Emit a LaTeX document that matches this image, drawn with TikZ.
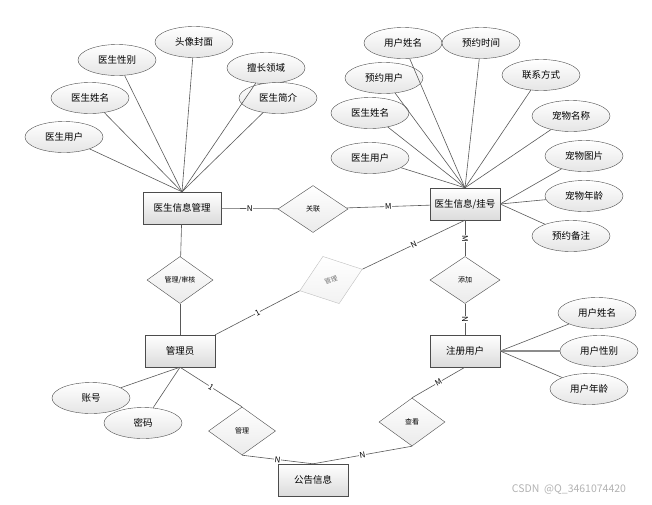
\documentclass[tikz,border=0pt]{standalone}
\usepackage{fontspec}
\setmainfont{Noto Sans CJK SC}
\usetikzlibrary{shapes.geometric}

\begin{document}
\begin{tikzpicture}[x=1pt,y=-1pt,
    entity/.style={rectangle,draw=black!70,top color=white,bottom color=black!14,minimum width=70pt,minimum height=32pt,inner sep=1pt,font=\fontsize{9.5}{11}\selectfont},
    attr/.style={ellipse,draw=black!70,top color=white,bottom color=black!10,minimum width=78pt,minimum height=31pt,inner sep=0pt,font=\fontsize{9.5}{11}\selectfont},
    rel/.style={diamond,draw=black!70,top color=white,bottom color=black!8,minimum width=68pt,minimum height=47pt,inner sep=0pt,font=\fontsize{7}{8}\selectfont},
    faded/.style={draw=black!25,top color=white,bottom color=black!5,text=black!55,font=\fontsize{6.5}{7}\selectfont},
    card/.style={fill=white,inner sep=0.5pt,font=\fontsize{8}{9}\selectfont,sloped},
    link/.style={draw=black!65,line width=0.6pt}]
            \useasboundingbox (0,0) rectangle (652,504);

            % Place the doctor entity and its attributes
            \node[entity,minimum width=78pt] (doc) at (182,208) {医生信息管理};
            \node[attr] (doc1) at (64,137) {医生用户};
            \node[attr] (doc2) at (90,98) {医生姓名};
            \node[attr] (doc3) at (117,60) {医生性别};
            \node[attr] (doc4) at (194,42) {头像封面};
            \node[attr] (doc5) at (266,68) {擅长领域};
            \node[attr] (doc6) at (278,98) {医生简介};

            % Place the booking entity and its attributes
            \node[entity] (bk) at (465,204) {医生信息/挂号};
            \node[attr] (bk1) at (403,43) {用户姓名};
            \node[attr] (bk2) at (481,43) {预约时间};
            \node[attr] (bk3) at (384,78) {预约用户};
            \node[attr] (bk4) at (541,75) {联系方式};
            \node[attr] (bk5) at (370,113) {医生姓名};
            \node[attr] (bk6) at (571,116) {宠物名称};
            \node[attr] (bk7) at (370,158) {医生用户};
            \node[attr] (bk8) at (584,156) {宠物图片};
            \node[attr] (bk9) at (584,196) {宠物年龄};
            \node[attr] (bk10) at (571,236) {预约备注};

            % Place the other entities
            \node[entity] (adm) at (180,351) {管理员};
            \node[attr] (adm1) at (91,398) {账号};
            \node[attr] (adm2) at (143,423) {密码};
            \node[entity] (usr) at (465,351) {注册用户};
            \node[attr] (usr1) at (597,313) {用户姓名};
            \node[attr] (usr2) at (599,351) {用户性别};
            \node[attr] (usr3) at (589,389) {用户年龄};
            \node[entity] (note) at (313,480) {公告信息};

            % Place the relations
            \node[rel,minimum width=70pt] (rl) at (313,209) {关联};
            \node[rel,minimum width=66pt] (rv) at (180,280) {管理/审核};
            \node[rel,minimum width=70pt] (ad) at (465,280) {添加};
            \node[rel,faded,minimum width=66pt,minimum height=50pt,rotate=19] (mg) at (331,280) {管理};
            \node[rel,minimum width=67pt,minimum height=48pt] (mn) at (242,431) {管理};
            \node[rel,minimum width=66pt,minimum height=48pt] (vw) at (412,422) {查看};

            % The lines!
            \foreach \i in {1,...,6} \draw[link] (doc\i) -- (doc.north);
            \foreach \i in {1,...,7} \draw[link] (bk\i) -- (bk.north);
            \foreach \i in {8,9,10} \draw[link] (bk\i) -- (bk.east);
            \draw[link] (adm1) -- (adm.south);
            \draw[link] (adm2) -- (adm.south);
            \draw[link] (usr.east) -- (usr1);
            \draw[link,draw=black!45,line width=1.2pt] (usr.east) -- (usr2);
            \draw[link] (usr.east) -- (usr3);

            \draw[link] (doc) -- node[card] {N} (rl);
            \draw[link] (rl) -- node[card] {M} (bk);
            \draw[link] (doc) -- (rv);
            \draw[link] (rv) -- (adm);
            \draw[link] (adm.north east) -- node[card] {1} (mg.west);
            \draw[link] (mg.east) -- node[card] {N} (bk.south);
            \draw[link] (bk) -- node[card] {M} (ad);
            \draw[link] (ad) -- node[card] {N} (usr);
            \draw[link] (adm.south) -- node[card] {1} (mn.north);
            \draw[link] (mn.south) -- node[card] {N} (note.north);
            \draw[link] (note.north) -- node[card] {N} (vw.south);
            \draw[link] (vw.north) -- node[card] {M} (usr.south);

            \node[text=black!30,font=\fontsize{10.5}{12}\selectfont] (wm) at (569,490) {CSDN\ \ @Q\_3461074420};
        \end{tikzpicture}
\end{document}
